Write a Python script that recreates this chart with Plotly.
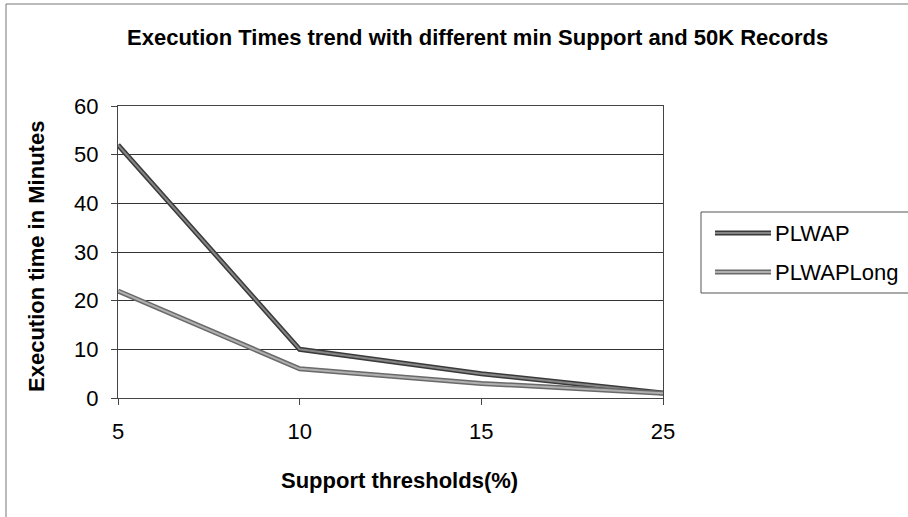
import plotly.graph_objects as go

# Support thresholds (%) and execution times in minutes
thresholds = ["5", "10", "15", "25"]
plwap = [52, 10, 5, 1]
plwap_long = [22, 6, 3, 1]

series = [
    ("PLWAP", plwap, "#3a3a3a", "#858585"),
    ("PLWAPLong", plwap_long, "#6a6a6a", "#b0b0b0"),
]

W, H = 908, 517
L, R, T, B = 118, 663, 106, 398  # plot area edges in px
pw, ph = R - L, B - T


def px(x):
    return (x - L) / pw


def py(y):
    return (B - y) / ph


fig = go.Figure()

# Each series: dark outer stroke with a lighter core
for name, values, edge, core in series:
    fig.add_trace(go.Scatter(x=thresholds, y=values, mode="lines", name=name,
                             line=dict(color=edge, width=5), showlegend=False,
                             hoverinfo="skip"))
    fig.add_trace(go.Scatter(x=thresholds, y=values, mode="lines", name=name,
                             line=dict(color=core, width=2), showlegend=False))

font = "Liberation Sans, Arial, sans-serif"

fig.update_layout(
    width=W, height=H,
    margin=dict(l=L, r=W - R, t=T, b=H - B),
    paper_bgcolor="white", plot_bgcolor="white",
    showlegend=False,
    font=dict(family=font, color="black"),
    xaxis=dict(
        type="category", range=[0, 3],
        showgrid=False, zeroline=False,
        ticks="outside", ticklen=6, tickcolor="#444",
        tickfont=dict(size=22, family=font),
        ticklabelstandoff=8,
        showline=True, linecolor="#444", linewidth=1, mirror=True,
    ),
    yaxis=dict(
        range=[0, 60], dtick=10,
        showgrid=True, gridcolor="#333", gridwidth=1,
        zeroline=False,
        ticks="outside", ticklen=6, tickcolor="#444",
        tickfont=dict(size=22, family=font),
        ticklabelstandoff=8,
        showline=True, linecolor="#444", linewidth=1, mirror=True,
    ),
)

# Chart title and axis titles
fig.add_annotation(xref="paper", yref="paper", x=px(477), y=py(38),
                   text="<b>Execution Times trend with different min Support and 50K Records</b>",
                   showarrow=False, xanchor="center", yanchor="middle",
                   font=dict(size=22, family=font, color="black"))
fig.add_annotation(xref="paper", yref="paper", x=px(399), y=py(480),
                   text="<b>Support thresholds(%)</b>",
                   showarrow=False, xanchor="center", yanchor="middle",
                   font=dict(size=22, family=font, color="black"))
fig.add_annotation(xref="paper", yref="paper", x=px(36), y=py(257),
                   text="<b>Execution time in Minutes</b>", textangle=-90,
                   showarrow=False, xanchor="center", yanchor="middle",
                   font=dict(size=22, family=font, color="black"))

# Outer chart frame (left and top edges)
fig.add_shape(type="line", xref="paper", yref="paper", x0=px(6), x1=px(912),
              y0=py(4), y1=py(4), line=dict(color="#777", width=1))
fig.add_shape(type="line", xref="paper", yref="paper", x0=px(6), x1=px(6),
              y0=py(4), y1=py(520), line=dict(color="#777", width=1))

# Legend box
fig.add_shape(type="rect", xref="paper", yref="paper",
              x0=px(701), x1=px(912), y0=py(293), y1=py(212),
              line=dict(color="#555", width=1), fillcolor="white")

legend_rows = [233, 272]
for (name, values, edge, core), yrow in zip(series, legend_rows):
    fig.add_shape(type="line", xref="paper", yref="paper",
                  x0=px(715), x1=px(771), y0=py(yrow), y1=py(yrow),
                  line=dict(color=edge, width=5))
    fig.add_shape(type="line", xref="paper", yref="paper",
                  x0=px(715), x1=px(771), y0=py(yrow), y1=py(yrow),
                  line=dict(color=core, width=2))
    fig.add_annotation(xref="paper", yref="paper", x=px(773), y=py(yrow),
                       text=name, showarrow=False, xanchor="left", yanchor="middle",
                       font=dict(size=22, family=font, color="black"))

fig.write_html("out.html")
